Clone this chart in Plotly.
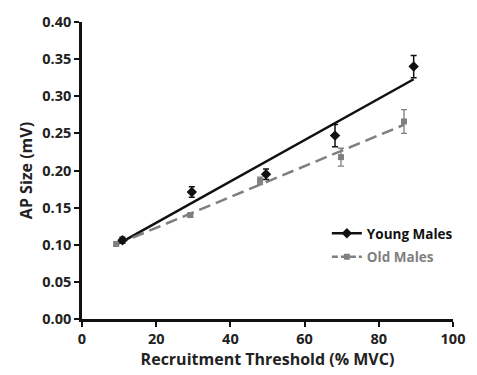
import numpy as np
import plotly.graph_objects as go

# Data
young_x = [10.9, 29.6, 49.6, 68.2, 89.4]
young_y = [0.106, 0.171, 0.195, 0.247, 0.340]
young_err = [0.004, 0.007, 0.007, 0.015, 0.015]

old_x = [9.2, 29.2, 48.0, 69.8, 86.8]
old_y = [0.101, 0.140, 0.186, 0.218, 0.266]
old_err = [0.003, 0.003, 0.005, 0.012, 0.016]

x_ticks = [0, 20, 40, 60, 80, 100]
y_ticks = [0.00, 0.05, 0.10, 0.15, 0.20, 0.25, 0.30, 0.35, 0.40]

BLACK = "#111111"
GRAY = "#7f7f7f"
FONT = "Open Sans"

def trend(xs, ys):
    k, b = np.polyfit(xs, ys, 1)
    xx = [min(xs), max(xs)]
    return xx, [k * v + b for v in xx]

fig = go.Figure()

tx, ty = trend(young_x, young_y)
fig.add_trace(go.Scatter(x=tx, y=ty, mode="lines", line=dict(color=BLACK, width=2.5),
                         showlegend=False, hoverinfo="skip"))
tx, ty = trend(old_x, old_y)
fig.add_trace(go.Scatter(x=tx, y=ty, mode="lines", line=dict(color=GRAY, width=2.5, dash="12px,6px"),
                         showlegend=False, hoverinfo="skip"))

fig.add_trace(go.Scatter(x=old_x, y=old_y, mode="markers",
                         marker=dict(symbol="square", size=6, color=GRAY),
                         error_y=dict(type="data", array=old_err, color=GRAY, thickness=1.3, width=3),
                         showlegend=False))
fig.add_trace(go.Scatter(x=young_x, y=young_y, mode="markers",
                         marker=dict(symbol="diamond", size=8, color=BLACK),
                         error_y=dict(type="data", array=young_err, color=BLACK, thickness=1.5, width=3),
                         showlegend=False))

# legend entries
fig.add_trace(go.Scatter(x=[None], y=[None], mode="lines+markers", name="Young Males",
                         legendgroup="a",
                         line=dict(color=BLACK, width=2.5),
                         marker=dict(symbol="diamond", size=8, color=BLACK)))
fig.add_trace(go.Scatter(x=[None], y=[None], mode="lines+markers",
                         name="<span style='color:#808080'>Old Males</span>",
                         legendgroup="b",
                         line=dict(color=GRAY, width=2.5, dash="6px,3px"),
                         marker=dict(symbol="square", size=6, color=GRAY)))

axis_common = dict(
    showline=True, linecolor=BLACK, linewidth=2.5,
    ticks="outside", tickcolor=BLACK, tickwidth=2, ticklen=5,
    showgrid=False, zeroline=False,
)

fig.update_layout(
    width=477, height=375,
    margin=dict(l=82, r=19, t=17, b=53),
    plot_bgcolor="white", paper_bgcolor="white",
    font=dict(family=FONT, color="#222222"),
    xaxis=dict(range=[0, 100], tickvals=x_ticks, ticktext=[str(v) for v in x_ticks],
               title=dict(text="<b>Recruitment Threshold (% MVC)</b>",
                          font=dict(size=16, family=FONT, color="#222222"), standoff=4),
               tickfont=dict(family=FONT, size=14.5, weight="bold", color="#222222"),
               **axis_common),
    yaxis=dict(range=[0, 0.40], tickvals=y_ticks, ticktext=[f"{v:.2f}" for v in y_ticks],
               title=dict(text="<b>AP Size (mV)</b>",
                          font=dict(size=16, family=FONT, color="#222222"), standoff=6),
               tickfont=dict(family=FONT, size=14.5, weight="bold", color="#222222"),
               **axis_common),
    legend=dict(x=0.66, y=0.34, xanchor="left", yanchor="top",
                font=dict(family=FONT, size=13.5, color=BLACK, weight="bold"),
                bgcolor="rgba(0,0,0,0)", tracegroupgap=3, itemwidth=30,
                traceorder="grouped"),
    showlegend=True,
)

fig.write_html("out.html")
